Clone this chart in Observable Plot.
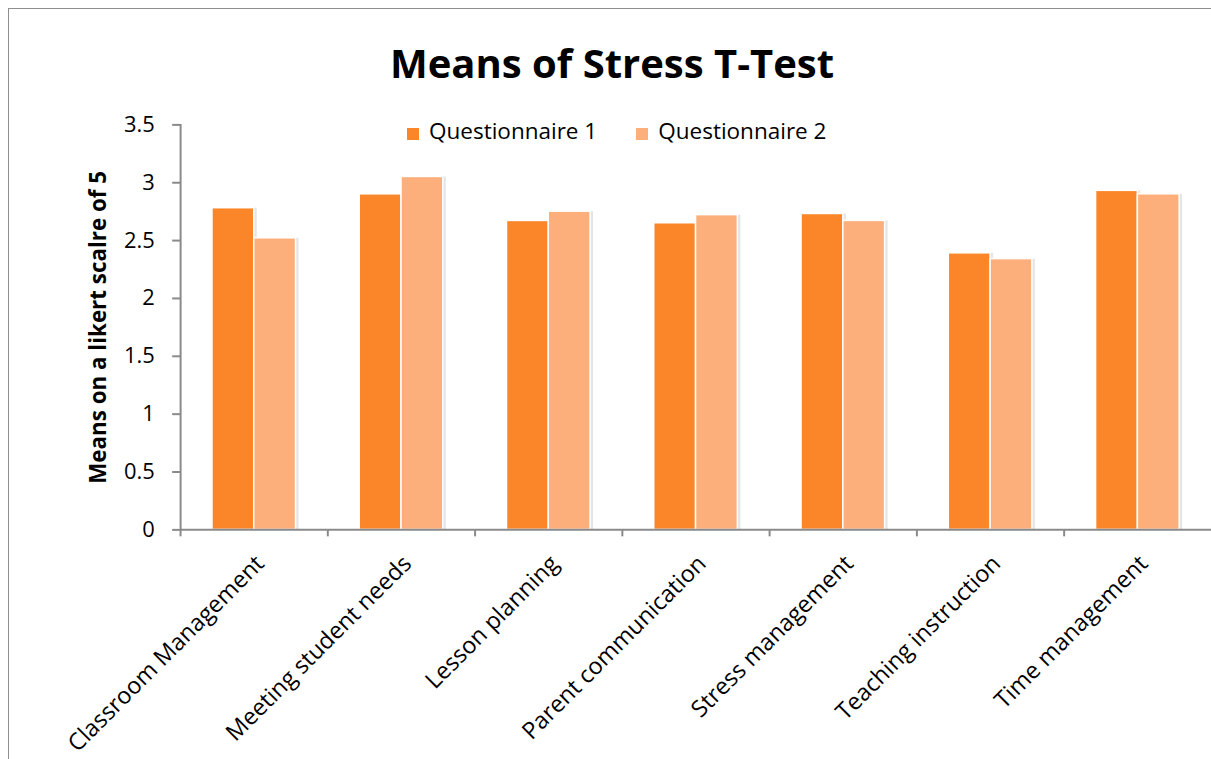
<!DOCTYPE html>
<html>
<head>
<meta charset="utf-8">
<script src="https://cdn.jsdelivr.net/npm/d3@7"></script>
<script src="https://cdn.jsdelivr.net/npm/@observablehq/plot@0.6"></script>
<style>
  html, body { margin: 0; padding: 0; background: #fff; }
  #wrap { position: relative; width: 1211px; height: 759px; overflow: hidden; font-family: "Open Sans", sans-serif; }
  #wrap svg { position: absolute; left: 0; top: 0; }
  .border { position: absolute; left: 8px; top: 8px; width: 1400px; height: 1000px; border: 1.5px solid #8e8e8e; box-sizing: border-box; }
  .title { position: absolute; left: 0; top: 42.5px; width: 1224px; text-align: center; font-weight: 700; font-size: 40px; line-height: 40px; color: #000; }
  .legend { position: absolute; left: 407px; top: 120px; height: 22px; display: flex; align-items: flex-start; font-size: 22.5px; line-height: 22px; color: #000; }
  .legend .item { display: flex; align-items: flex-start; margin-right: 39px; }
  .legend .sw { width: 12px; height: 12px; margin-top: 8px; margin-right: 10px; }
</style>
</head>
<body>
<div id="wrap">
  <div class="border"></div>
</div>
<script>
// ---- data ----
const title = "Means of Stress T-Test";
const yTitle = "Means on a likert scalre of 5";
const categories = [
  "Classroom Management",
  "Meeting student needs",
  "Lesson planning",
  "Parent communication",
  "Stress management",
  "Teaching instruction",
  "Time management"
];
const series = ["Questionnaire 1", "Questionnaire 2"];
const q1 = [2.78, 2.90, 2.67, 2.65, 2.73, 2.39, 2.93];
const q2 = [2.52, 3.05, 2.75, 2.72, 2.67, 2.34, 2.90];
const colors = ["#fb8629", "#fcaf7a"];
const yTicks = [0, 0.5, 1, 1.5, 2, 2.5, 3, 3.5];

const data = [];
categories.forEach((c, i) => {
  data.push({category: c, series: series[0], value: q1[i]});
  data.push({category: c, series: series[1], value: q2[i]});
});

// ---- layout ----
const W = 1217, H = 759, ML = 180, MT = 125, MB = 227, MR = 0;
const step = (W - ML - MR) / categories.length;
const axisGray = "#8a8a8a";

const chart = Plot.plot({
  width: W,
  height: H,
  marginLeft: ML,
  marginRight: MR,
  marginTop: MT,
  marginBottom: MB,
  style: {fontFamily: "Open Sans", fontSize: "22px", color: "#000", background: "transparent", overflow: "visible"},
  fx: {domain: categories, padding: 0, label: null, axis: null},
  x: {domain: series, paddingOuter: 0.742, paddingInner: 0, axis: null},
  y: {domain: [0, 3.5], axis: null},
  color: {domain: series, range: colors},
  marks: [
    // soft shadow
    Plot.barY(data, {fx: "category", x: "series", y: "value", fill: "#000", fillOpacity: 0.1, dx: 3}),
    Plot.barY(data, {fx: "category", x: "series", y: "value", fill: "series", stroke: "white", strokeWidth: 1.5}),
    Plot.ruleY([0], {stroke: axisGray, strokeWidth: 2}),
    Plot.frame({anchor: "left", stroke: axisGray, strokeWidth: 2, facet: "super"}),
    Plot.axisY({ticks: yTicks, tickSize: 8, tickPadding: 18, tickFormat: d => String(d), stroke: axisGray, strokeWidth: 2, fill: "#000", label: null, fontSize: 22}),
    Plot.text([{c: categories[0]}], {fx: "c", text: () => yTitle, frameAnchor: "left", textAnchor: "middle", lineAnchor: "middle", rotate: -90, dx: -82, fontWeight: "bold", fontSize: 22.5, fill: "#000"}),
    Plot.axisFx({anchor: "bottom", tickSize: 0, tickPadding: 30, tickRotate: -45, dx: 6, label: null, fontSize: 23.5, fill: "#000"}),
    Plot.axisFx({anchor: "bottom", tickSize: 7, tickFormat: () => "", dx: -step / 2, stroke: axisGray, strokeWidth: 2, label: null})
  ]
});

const wrap = document.getElementById("wrap");
wrap.appendChild(chart);

const t = document.createElement("div");
t.className = "title";
t.textContent = title;
wrap.appendChild(t);

const lg = document.createElement("div");
lg.className = "legend";
series.forEach((s, i) => {
  const it = document.createElement("div");
  it.className = "item";
  const sw = document.createElement("div");
  sw.className = "sw";
  sw.style.background = colors[i];
  const lb = document.createElement("span");
  lb.textContent = s;
  it.appendChild(sw);
  it.appendChild(lb);
  lg.appendChild(it);
});
wrap.appendChild(lg);
</script>
</body>
</html>
